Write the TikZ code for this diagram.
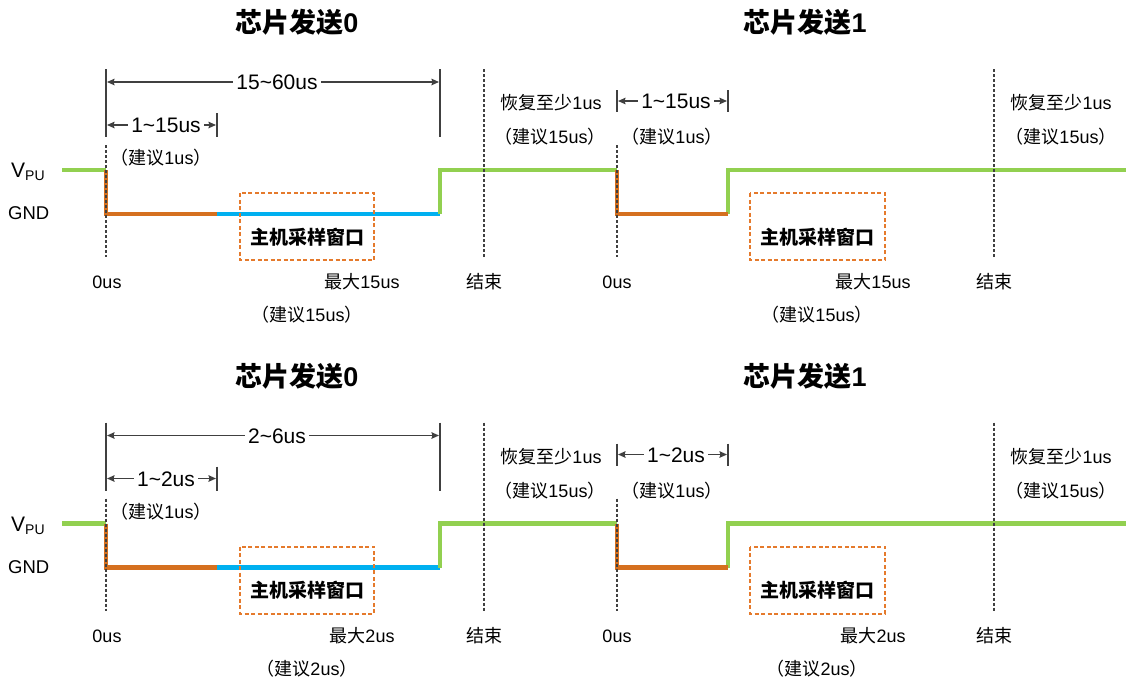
\documentclass[tikz,border=0pt]{standalone}
\usepackage{fontspec}
\setmainfont{Liberation Sans}
\newfontfamily\cjk{Noto Sans CJK SC}
\usetikzlibrary{arrows.meta}
\newcommand\C[1]{{\cjk #1}}
\definecolor{sgreen}{HTML}{92D050}
\definecolor{sorange}{HTML}{D5701F}
\definecolor{sblue}{HTML}{00B0F0}
\definecolor{borange}{HTML}{E57A2C}
\definecolor{dgray}{HTML}{404040}
\tikzset{
 sig/.style={line width=4.3pt, line join=miter},
 gline/.style={sig, draw=sgreen},
 oline/.style={sig, draw=sorange},
 bline/.style={sig, draw=sblue},
 guide/.style={draw=dgray, line width=1.8pt, dash pattern=on 3pt off 2pt},
 ext/.style={draw=dgray, line width=2.2pt},
 dimarrow/.style={draw=dgray, line width=1.8pt, {Stealth[length=7.5pt,width=6.5pt,inset=1pt]}-{Stealth[length=7.5pt,width=6.5pt,inset=1pt]}},
 dimlabel/.style={fill=white, inner xsep=3pt, inner ysep=1pt, anchor=base, font=\fontsize{21}{24}\selectfont},
 small/.style={anchor=base, inner sep=0pt, font=\fontsize{18}{21}\selectfont},
 title/.style={anchor=base, inner sep=0pt, font=\fontsize{27}{32}\selectfont\bfseries},
 win/.style={draw=borange, line width=2pt, dash pattern=on 4pt off 2.5pt},
 winlabel/.style={anchor=base, inner sep=0pt, font=\fontsize{19}{22}\selectfont\bfseries},
}
\newcommand\panel[6]{%
\begin{scope}[yshift=#2]
 % titles
 \node[title] (#1t0) at (297,32.5) {\C{芯片发送}0};
 \node[title] (#1t1) at (805,32.5) {\C{芯片发送}1};
 \node[anchor=base west, inner sep=0pt, font=\fontsize{21}{24}\selectfont] (#1vpu) at (11,177.5) {V\raisebox{-0.3ex}{\fontsize{14}{15}\selectfont PU}};
 \node[anchor=base west, inner sep=0pt, font=\fontsize{18.5}{21}\selectfont] (#1gnd) at (8,219.5) {GND};
 % signal coordinates
 \coordinate (#1s0) at (62,170);
 \coordinate (#1s1) at (106,170);
 \coordinate (#1s2) at (106,214);
 \coordinate (#1s3) at (217,214);
 \coordinate (#1s4) at (440,214);
 \coordinate (#1s5) at (440,170);
 \coordinate (#1s6) at (617,170);
 \coordinate (#1s7) at (617,214);
 \coordinate (#1s8) at (728,214);
 \coordinate (#1s9) at (728,170);
 \coordinate (#1s10) at (1126,170);
 \draw[bline] (#1s3) -- (#1s4);
 \draw[gline] (#1s0) -- (#1s1);
 \draw[gline] (#1s4) -- (#1s5) -- (#1s6);
 \draw[gline] (#1s8) -- (#1s9) -- (#1s10);
 \draw[oline] (#1s1) -- (#1s2) -- (#1s3);
 \draw[oline] (#1s6) -- (#1s7) -- (#1s8);
 % extension lines
 \coordinate (#1e0a) at (106,69);  \coordinate (#1e0b) at (106,137);
 \coordinate (#1e1a) at (440,69);  \coordinate (#1e1b) at (440,137);
 \coordinate (#1e2a) at (217,113); \coordinate (#1e2b) at (217,137);
 \coordinate (#1e3a) at (617,90);  \coordinate (#1e3b) at (617,112);
 \coordinate (#1e4a) at (728,90);  \coordinate (#1e4b) at (728,112);
 \draw[ext] (#1e0a) -- (#1e0b);
 \draw[ext] (#1e1a) -- (#1e1b);
 \draw[ext] (#1e2a) -- (#1e2b);
 \draw[ext] (#1e3a) -- (#1e3b);
 \draw[ext] (#1e4a) -- (#1e4b);
 % guide lines
 \coordinate (#1g0a) at (106,145); \coordinate (#1g0b) at (106,257);
 \coordinate (#1g1a) at (484,69);  \coordinate (#1g1b) at (484,257);
 \coordinate (#1g2a) at (617,145); \coordinate (#1g2b) at (617,257);
 \coordinate (#1g3a) at (994,69);  \coordinate (#1g3b) at (994,257);
 \draw[guide] (#1g0a) -- (#1g0b);
 \draw[guide] (#1g1a) -- (#1g1b);
 \draw[guide] (#1g2a) -- (#1g2b);
 \draw[guide] (#1g3a) -- (#1g3b);
 % dimension arrows
 \coordinate (#1d0a) at (107,82);  \coordinate (#1d0b) at (439,82);
 \coordinate (#1d1a) at (107,125); \coordinate (#1d1b) at (216,125);
 \coordinate (#1d2a) at (618,101); \coordinate (#1d2b) at (727,101);
 \draw[dimarrow] (#1d0a) -- (#1d0b);
 \draw[dimarrow] (#1d1a) -- (#1d1b);
 \draw[dimarrow] (#1d2a) -- (#1d2b);
 \node[dimlabel] (#1l0) at (277,89.5) {#3};
 \node[dimlabel] (#1l1) at (166,132.5) {#4};
 \node[dimlabel] (#1l2) at (676,108.5) {#4};
 % sampling windows
 \draw[win] (240,193) rectangle (374,260);
 \draw[win] (750,193) rectangle (885,260);
 \node[winlabel] (#1w0) at (307,244) {\C{主机采样窗口}};
 \node[winlabel] (#1w1) at (817,244) {\C{主机采样窗口}};
 % small texts
 \node[small] (#1a0) at (161,164.5) {\C{（建议}1us\C{）}};
 \node[small] (#1a1) at (551,109.5) {\C{恢复至少}1us};
 \node[small] (#1a2) at (550,143.5) {\C{（建议}15us\C{）}};
 \node[small] (#1a3) at (672,143.5) {\C{（建议}1us\C{）}};
 \node[small] (#1a4) at (1061,109.5) {\C{恢复至少}1us};
 \node[small] (#1a5) at (1061,143.5) {\C{（建议}15us\C{）}};
 \node[small] (#1b0) at (107,288.5) {0us};
 \node[small] (#1b1) at (362,288.5) {\C{最大}#5us};
 \node[small] (#1b2) at (484,288.5) {\C{结束}};
 \node[small] (#1b3) at (617,288.5) {0us};
 \node[small] (#1b4) at (873,288.5) {\C{最大}#5us};
 \node[small] (#1b5) at (994,288.5) {\C{结束}};
 \node[small] (#1c0) at (307,321.5) {\C{（建议}#6us\C{）}};
 \node[small] (#1c1) at (817,321.5) {\C{（建议}#6us\C{）}};
\end{scope}}
\begin{document}
\begin{tikzpicture}[x=1pt,y=-1pt]
 \useasboundingbox (0,0) rectangle (1126,678);
 \panel{p}{0pt}{15\char`~60us}{1\char`~15us}{15}{15}
 \panel{q}{-353.5pt}{2\char`~6us}{1\char`~2us}{2}{2}
\end{tikzpicture}
\end{document}
